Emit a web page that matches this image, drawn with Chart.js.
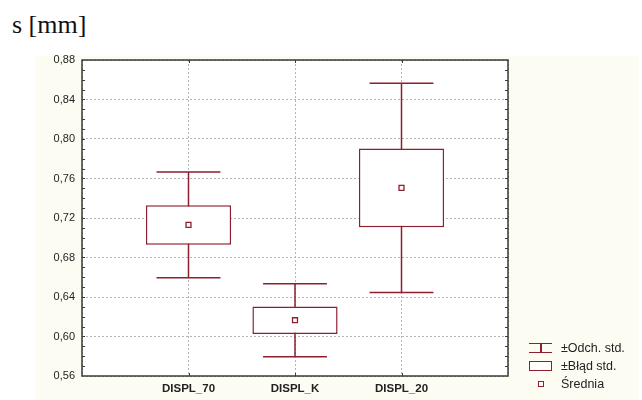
<!DOCTYPE html>
<html>
<head>
<meta charset="utf-8">
<script src="https://cdn.jsdelivr.net/npm/chart.js@4.4.1/dist/chart.umd.min.js"></script>
<style>
body { margin: 0; background: #fff; }
#wrap { position: relative; width: 642px; height: 400px; overflow: hidden; }
#bg { position: absolute; left: 35px; top: 56px; width: 604px; height: 344px; background: #fcfcf3; }
#title { position: absolute; left: 12px; top: 12px; line-height: 26px; font-size: 26px; font-family: "Liberation Serif", "Times New Roman", serif; color: #111; }
#chart { position: absolute; left: 0; top: 0; }
#legend { position: absolute; left: 529px; top: 339px; font-size: 12.5px; font-family: "Liberation Sans", Arial, sans-serif; color: #222; }
.item { height: 18px; display: flex; align-items: center; }
.icon { width: 23px; height: 18px; position: relative; margin-right: 9px; }
.icon div { position: absolute; box-sizing: border-box; }
</style>
</head>
<body>
<div id="wrap">
  <div id="bg"></div>
  <div id="title">s [mm]</div>
  <canvas id="chart" width="642" height="400"></canvas>
  <div id="legend">
    <div class="item">
      <div class="icon">
        <div style="left:0;top:4px;width:23px;height:10px;border-top:1.5px solid #8e1f2f;border-bottom:1.5px solid #8e1f2f;"></div>
        <div style="left:11px;top:4px;width:1.5px;height:10px;background:#8e1f2f;"></div>
      </div>±Odch. std.
    </div>
    <div class="item">
      <div class="icon">
        <div style="left:0;top:4px;width:23px;height:10px;border:1.5px solid #8e1f2f;background:#fff;"></div>
      </div>±Błąd std.
    </div>
    <div class="item">
      <div class="icon">
        <div style="left:9px;top:6px;width:6px;height:6px;border:1.3px solid #8e1f2f;background:#fff;"></div>
      </div>Średnia
    </div>
  </div>
</div>
<script>
// values
const categories = ['DISPL_70', 'DISPL_K', 'DISPL_20'];
const means = [0.713, 0.6165, 0.7505];
const stdErr = [0.020, 0.0139, 0.0398];
const stdDev = [0.0535, 0.037, 0.106];
const yMin = 0.56, yMax = 0.88, yStep = 0.04;

const red = '#8e1f2f';

// empty slots at both ends so the categories sit on 1..3 of 0..4
const labels = ['', ...categories, ''];
const boxes = [null, ...means.map((m, i) => [m - stdErr[i], m + stdErr[i]]), null];
const meanPts = [null, ...means, null];

const whiskers = {
    id: 'whiskers',
    beforeDatasetsDraw(chart) {
        const x = chart.scales.x, y = chart.scales.y, ctx = chart.ctx;
        const step = x.getPixelForValue(1) - x.getPixelForValue(0);
        ctx.save();
        ctx.strokeStyle = red;
        ctx.lineWidth = 1.5;
        means.forEach((m, i) => {
            const px = x.getPixelForValue(i + 1);
            const top = y.getPixelForValue(m + stdDev[i]);
            const bot = y.getPixelForValue(m - stdDev[i]);
            const hw = step * 0.3;
            ctx.beginPath();
            ctx.moveTo(px, top); ctx.lineTo(px, bot);
            ctx.moveTo(px - hw, top); ctx.lineTo(px + hw, top);
            ctx.moveTo(px - hw, bot); ctx.lineTo(px + hw, bot);
            ctx.stroke();
        });
        ctx.restore();
    }
};

const frame = {
    id: 'frame',
    beforeDraw(chart) {
        const a = chart.chartArea, ctx = chart.ctx;
        ctx.save();
        ctx.fillStyle = '#fff';
        ctx.fillRect(a.left, a.top, a.right - a.left, a.bottom - a.top);
        ctx.restore();
    },
    afterDraw(chart) {
        const a = chart.chartArea, ctx = chart.ctx;
        const x = chart.scales.x, y = chart.scales.y;
        ctx.save();
        ctx.strokeStyle = '#3a3a3a';
        ctx.lineWidth = 1.5;
        ctx.strokeRect(a.left, a.top, a.right - a.left, a.bottom - a.top);
        ctx.lineWidth = 1;
        ctx.beginPath();
        // minor ticks pointing inward on both sides
        for (let v = yMin + 0.01; v < yMax - 0.005; v += 0.01) {
            const py = Math.round(y.getPixelForValue(v)) + 0.5;
            ctx.moveTo(a.left, py); ctx.lineTo(a.left + 3, py);
            ctx.moveTo(a.right, py); ctx.lineTo(a.right - 3, py);
        }
        for (let i = 1; i <= categories.length; i++) {
            const px = Math.round(x.getPixelForValue(i)) + 0.5;
            ctx.moveTo(px, a.top); ctx.lineTo(px, a.top + 3);
            ctx.moveTo(px, a.bottom); ctx.lineTo(px, a.bottom - 3);
        }
        ctx.stroke();
        ctx.restore();
    }
};

new Chart(document.getElementById('chart'), {
    type: 'bar',
    data: {
        labels: labels,
        datasets: [
            {
                type: 'line',
                label: 'Średnia',
                data: meanPts,
                showLine: false,
                pointStyle: 'rect',
                pointRadius: 3.5,
                pointBorderWidth: 1.3,
                pointBorderColor: red,
                pointBackgroundColor: '#fff',
                order: 0
            },
            {
                label: '±Błąd std.',
                data: boxes,
                backgroundColor: '#fff',
                borderColor: red,
                borderWidth: 1.5,
                borderSkipped: false,
                barPercentage: 0.8,
                categoryPercentage: 1,
                order: 1
            }
        ]
    },
    options: {
        responsive: false,
        animation: false,
        layout: { padding: { left: 0, right: 134, top: 60, bottom: 0 } },
        plugins: {
            legend: { display: false },
            tooltip: { enabled: false }
        },
        scales: {
            x: {
                type: 'category',
                offset: false,
                grid: { offset: false, color: '#b4b4b4', drawTicks: false },
                border: { display: false, dash: [2, 2] },
                ticks: {
                    autoSkip: false,
                    maxRotation: 0,
                    padding: 6,
                    color: '#222',
                    font: { family: 'Liberation Sans', size: 11.5, weight: 'bold' }
                },
                afterFit(s) { s.height = 24; }
            },
            y: {
                min: yMin,
                max: yMax,
                grid: { color: '#b4b4b4', drawTicks: false },
                border: { display: false, dash: [2, 2] },
                ticks: {
                    stepSize: yStep,
                    padding: 7,
                    color: '#222',
                    font: { family: 'Liberation Sans', size: 11 },
                    callback: v => v.toFixed(2).replace('.', ',')
                },
                afterFit(s) { s.width = 82; }
            }
        }
    },
    plugins: [frame, whiskers]
});
</script>
</body>
</html>
